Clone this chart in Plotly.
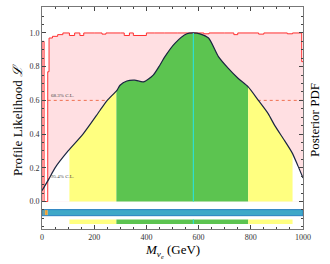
import numpy as np
import plotly.graph_objects as go

# Posterior PDF curve (M in GeV, normalised pdf)
pdf_m = [0, 25, 50, 100, 157, 222, 250, 287, 299, 325, 355, 389, 426, 452, 471, 510,
         555, 578, 605, 638, 676, 714, 752, 790, 829, 867, 892, 930, 958, 981, 1000]
pdf_v = [0.065, 0.13, 0.2, 0.3, 0.4, 0.54, 0.6, 0.66, 0.69, 0.715, 0.72, 0.71, 0.75, 0.81, 0.86, 0.94,
         0.995, 1.0, 0.995, 0.97, 0.86, 0.79, 0.73, 0.68, 0.6, 0.52, 0.45, 0.36, 0.29, 0.21, 0.14]

# Profile likelihood (step), left edges and values
pl_m = [0, 0, 8, 22, 27, 40, 60, 80, 105, 125, 145, 160, 200, 230, 245, 300, 315, 335, 350,
        400, 430, 470, 520, 600, 620, 640, 700, 735, 750, 830, 850, 940, 960, 995, 1000]
pl_v = [0, 0.95, 0, 0.77, 0.97, 0.98, 0.99, 1.0, 0.985, 1.0, 0.985, 1.0, 1.0, 0.993, 1.0, 1.0, 0.985, 1.0, 0.985,
        1.0, 1.0, 1.0, 1.0, 1.0, 0.995, 1.0, 1.0, 0.99, 1.0, 0.993, 1.0, 0.995, 1.0, 0.83, 0.83]

# Credible intervals (posterior)
yellow_1 = [105, 285]
green_1 = [285, 790]
yellow_2 = [790, 960]
best_fit = 580

# Confidence level thresholds
cl68 = 0.6
cl95 = 0.135

# Interval bars
pl_bar_segments = [(0, 12, "#6aa3a8"), (12, 22, "#f0a030"), (22, 1000, "#3ea8c8")]
pdf_bar_segments = [(105, 285, "#ffff80"), (285, 790, "#5cc450"), (790, 960, "#ffff80")]
bar_pl_y, bar_pl_h = -0.066, 0.018
bar_pdf_y, bar_pdf_h = -0.12, 0.013

fig = go.Figure()

fig.add_trace(go.Scatter(x=pl_m, y=pl_v, mode="lines", line=dict(width=0, shape="hv"),
                         fill="tozeroy", fillcolor="#ffdfe2", hoverinfo="skip"))
fig.add_trace(go.Scatter(x=[22, 1000], y=[cl68, cl68], mode="lines",
                         line=dict(color="#f07050", width=1, dash="dot")))
fig.add_trace(go.Scatter(x=[22, 1000], y=[cl95, cl95], mode="lines",
                         line=dict(color="#f07050", width=1, dash="dot")))

fig.add_trace(go.Scatter(x=pdf_m, y=pdf_v, mode="lines", line=dict(width=0, shape="spline", smoothing=0.7),
                         fill="tozeroy", fillcolor="white"))
pm = np.array(pdf_m, dtype=float)
for (a, b), col in [(yellow_1, "#ffff80"), (green_1, "#5cc450"), (yellow_2, "#ffff80")]:
    sx = np.concatenate([[a], pm[(pm > a) & (pm < b)], [b]])
    sy = np.interp(sx, pdf_m, pdf_v)
    fig.add_trace(go.Scatter(x=sx, y=sy, mode="lines", line=dict(width=0, shape="spline", smoothing=0.7),
                             fill="tozeroy", fillcolor=col))

fig.add_trace(go.Scatter(x=pl_m, y=pl_v, mode="lines", line=dict(color="#ff3030", width=1, shape="hv")))
fig.add_trace(go.Scatter(x=pdf_m, y=pdf_v, mode="lines",
                         line=dict(color="#1a2540", width=1.2, shape="spline", smoothing=0.7)))

for a, b, col in pl_bar_segments:
    fig.add_trace(go.Scatter(x=[a, b, b, a, a],
                             y=[bar_pl_y - bar_pl_h, bar_pl_y - bar_pl_h, bar_pl_y + bar_pl_h, bar_pl_y + bar_pl_h, bar_pl_y - bar_pl_h],
                             mode="lines", line=dict(width=0), fill="toself", fillcolor=col))
fig.add_trace(go.Scatter(x=[0, 1000, 1000, 0, 0],
                         y=[bar_pl_y - bar_pl_h, bar_pl_y - bar_pl_h, bar_pl_y + bar_pl_h, bar_pl_y + bar_pl_h, bar_pl_y - bar_pl_h],
                         mode="lines", line=dict(width=1, color="#2a80c0")))
for a, b, col in pdf_bar_segments:
    fig.add_trace(go.Scatter(x=[a, b, b, a, a],
                             y=[bar_pdf_y - bar_pdf_h, bar_pdf_y - bar_pdf_h, bar_pdf_y + bar_pdf_h, bar_pdf_y + bar_pdf_h, bar_pdf_y - bar_pdf_h],
                             mode="lines", line=dict(width=0), fill="toself", fillcolor=col))

fig.add_trace(go.Scatter(x=[best_fit, best_fit], y=[0, 1.0], mode="lines",
                         line=dict(color="#30e0d0", width=1.2)))
fig.add_trace(go.Scatter(x=[best_fit, best_fit], y=[bar_pdf_y - bar_pdf_h, bar_pdf_y + bar_pdf_h], mode="lines",
                         line=dict(color="#30e0d0", width=1.2)))

fnt = "Liberation Serif, Times New Roman, serif"
L, R, T, B = 42, 27, 7, 35
pw, ph = 330 - L - R, 264 - T - B


def px(x, y):
    return (x - L) / pw, (264 - B - y) / ph


fig.add_annotation(x=25, y=cl68, text="68.3% C.L.", showarrow=False, xanchor="left", yanchor="bottom",
                   font=dict(family=fnt, size=5, color="#444"))
fig.add_annotation(x=25, y=0.15, text="95.4% C.L.", showarrow=False, xanchor="left", yanchor="middle",
                   font=dict(family=fnt, size=5, color="#444"))
ax, ay = px(314, 120)
fig.add_annotation(x=ax, y=ay, xref="paper", yref="paper", text="Posterior PDF", showarrow=False,
                   xanchor="center", yanchor="middle",
                   textangle=-90, font=dict(family=fnt, size=13, color="black"))
ax, ay = px(17, 120)
fig.add_annotation(x=ax, y=ay, xref="paper", yref="paper", text="Profile Likelihood <i>ℒ</i>", showarrow=False,
                   xanchor="center", yanchor="middle",
                   textangle=-90, font=dict(family=fnt, size=13, color="black"))
ax, ay = px(172, 251)
fig.add_annotation(x=ax, y=ay, xref="paper", yref="paper",
                   text="<i>M</i><sub><i>ν<sub>e</sub></i></sub> (GeV)", showarrow=False,
                   xanchor="center", yanchor="middle",
                   font=dict(family=fnt, size=13, color="black"))

fig.update_layout(
    width=330, height=264, showlegend=False,
    margin=dict(l=L, r=R, t=T, b=B, autoexpand=False),
    plot_bgcolor="white", paper_bgcolor="white",
    font=dict(family=fnt, color="#333"),
    xaxis=dict(range=[0, 1000], tickvals=[0, 200, 400, 600, 800, 1000], ticks="inside", ticklen=4,
               minor=dict(dtick=50, ticks="inside", ticklen=2), mirror="ticks", showline=True,
               linecolor="#777", linewidth=1, showgrid=False, zeroline=False, automargin=False,
               tickfont=dict(size=8, family=fnt)),
    yaxis=dict(range=[-0.163, 1.154], tickvals=[0, 0.2, 0.4, 0.6, 0.8, 1.0], tickformat=".1f",
               ticks="inside", ticklen=4, minor=dict(dtick=0.05, ticks="inside", ticklen=2),
               mirror="ticks", showline=True, linecolor="#777", linewidth=1, showgrid=False, zeroline=False,
               automargin=False, tickfont=dict(size=8, family=fnt)),
)
fig.write_html("out.html", config={"displayModeBar": False},
               post_script="document.body.style.margin='0';document.body.style.overflow='hidden';")
